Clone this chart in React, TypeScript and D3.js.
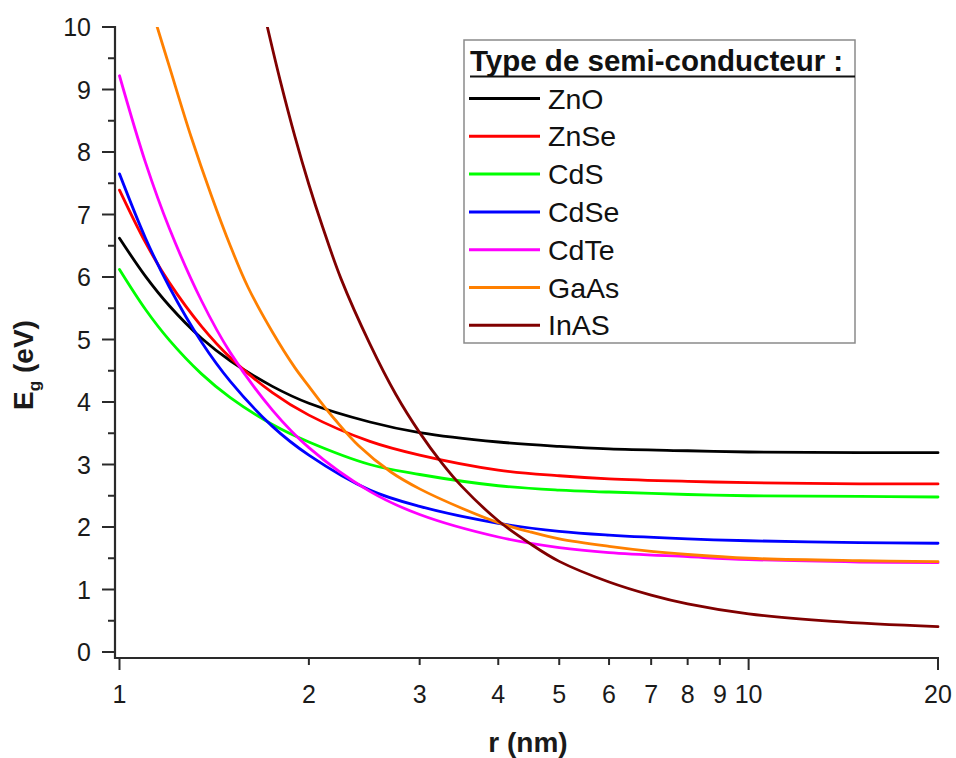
import React from "react";
import * as d3 from "d3";

const R_MAIN = [1, 1.1, 1.2, 1.35, 1.5, 1.75, 2, 2.5, 3, 4, 5, 6, 8, 10, 15, 20];
const ZNO = [6.62, 6.01, 5.54, 5.02, 4.66, 4.25, 3.98, 3.68, 3.51, 3.36, 3.29, 3.25, 3.22, 3.2, 3.19, 3.19];
const ZNSE = [7.39, 6.55, 5.91, 5.21, 4.71, 4.15, 3.79, 3.37, 3.15, 2.91, 2.82, 2.77, 2.73, 2.71, 2.69, 2.69];
const CDS = [6.12, 5.48, 4.99, 4.45, 4.07, 3.64, 3.36, 3.0, 2.84, 2.66, 2.59, 2.56, 2.52, 2.5, 2.49, 2.48];
const CDSE = [7.65, 6.62, 5.84, 4.96, 4.33, 3.61, 3.15, 2.59, 2.33, 2.06, 1.93, 1.87, 1.81, 1.78, 1.75, 1.74];
const CDTE = [9.22, 7.83, 6.78, 5.62, 4.79, 3.87, 3.27, 2.57, 2.2, 1.84, 1.67, 1.59, 1.525, 1.48, 1.44, 1.43];

const R_GAAS = [1.148, 1.2, 1.3, 1.4, 1.5, 1.6, 1.75, 1.9, 2.0, 2.1, 2.2, 2.4, 2.7, 3.0, 3.5, 4.0, 4.5, 5, 6, 7, 8, 10, 15, 20];
const GAAS = [10.0, 9.37, 8.24, 7.3, 6.5, 5.84, 5.12, 4.55, 4.25, 3.97, 3.72, 3.3, 2.88, 2.61, 2.3, 2.07, 1.92, 1.81, 1.69, 1.61, 1.56, 1.5, 1.46, 1.445];

const R_INAS = [1.718, 1.8, 1.9, 2.0, 2.1, 2.25, 2.5, 2.75, 3.0, 3.25, 3.5, 4.0, 4.5, 5, 6, 7, 8, 10, 13.6, 20];
const INAS = [10.0, 9.15, 8.25, 7.48, 6.82, 5.97, 4.93, 4.12, 3.51, 3.03, 2.65, 2.1, 1.73, 1.45, 1.12, 0.91, 0.77, 0.61, 0.49, 0.405];

const SERIES_NAMES = ["ZnO", "ZnSe", "CdS", "CdSe", "CdTe", "GaAs", "InAS"];
const SERIES_COLORS = ["#000000", "#ff0000", "#00ff00", "#0000ff", "#ff00ff", "#ff8000", "#800000"];

const X_TICKS = [1, 2, 3, 4, 5, 6, 7, 8, 9, 10, 20];
const X_MAJOR = [1, 10, 20];
const Y_TICKS = [0, 1, 2, 3, 4, 5, 6, 7, 8, 9, 10];
const Y_MINOR = [0.5, 1.5, 2.5, 3.5, 4.5, 5.5, 6.5, 7.5, 8.5, 9.5];

const LEGEND_TITLE = "Type de semi-conducteur :";
const X_TITLE = "r (nm)";

const FONT = "'Liberation Sans', Arial, Helvetica, sans-serif";

export default function App() {
  const W = 956;
  const H = 758;
  const axisX = 115;
  const axisY = 658;
  const x = d3.scaleLog().domain([1, 20]).range([119.5, 938]);
  const y = d3.scaleLinear().domain([0, 10]).range([652, 27]);

  const toPts = (rs: number[], vs: number[]) => rs.map((r, i) => [r, vs[i]] as [number, number]);
  const data = [
    toPts(R_MAIN, ZNO),
    toPts(R_MAIN, ZNSE),
    toPts(R_MAIN, CDS),
    toPts(R_MAIN, CDSE),
    toPts(R_MAIN, CDTE),
    toPts(R_GAAS, GAAS),
    toPts(R_INAS, INAS),
  ];
  const line = d3
    .line<[number, number]>()
    .x((d) => x(d[0]))
    .y((d) => y(d[1]))
    .curve(d3.curveCatmullRom.alpha(0.5));

  const axisColor = "#2a2a2a";
  const legX = 464;
  const legY = 40;
  const legW = 391;
  const legH = 303;
  const entryY0 = 98.5;
  const entryDy = 37.8;

  return (
    <svg
      width={W}
      height={H}
      style={{ position: "absolute", left: 0, top: 0, background: "#fff" }}
      fontFamily={FONT}
    >
      <rect x={0} y={0} width={W} height={H} fill="#fff" />
      <defs>
        <clipPath id="plotClip">
          <rect x={axisX} y={y(10)} width={940 - axisX} height={axisY - y(10)} />
        </clipPath>
      </defs>

      {/* curves */}
      <g clipPath="url(#plotClip)">
        {data.map((pts, i) => (
          <path
            key={SERIES_NAMES[i]}
            d={line(pts) || ""}
            fill="none"
            stroke={SERIES_COLORS[i]}
            strokeWidth={2.8}
            strokeLinejoin="round"
            strokeLinecap="round"
          />
        ))}
      </g>

      {/* Y axis */}
      <line x1={axisX} x2={axisX} y1={y(10) - 1} y2={axisY + 1} stroke={axisColor} strokeWidth={2.2} />
      {Y_TICKS.map((t) => (
        <g key={"yt" + t}>
          <line x1={axisX - 13} x2={axisX} y1={y(t)} y2={y(t)} stroke={axisColor} strokeWidth={2} />
          <text x={91} y={y(t)} dy="0.36em" textAnchor="end" fontSize={25} fill="#1a1a1a">
            {t}
          </text>
        </g>
      ))}
      {Y_MINOR.map((t) => (
        <line key={"ym" + t} x1={axisX - 7} x2={axisX} y1={y(t)} y2={y(t)} stroke={axisColor} strokeWidth={2} />
      ))}

      {/* X axis */}
      <line x1={axisX - 1} x2={939} y1={axisY} y2={axisY} stroke={axisColor} strokeWidth={2.2} />
      {X_TICKS.map((t) => (
        <g key={"xt" + t}>
          <line
            x1={x(t)}
            x2={x(t)}
            y1={axisY}
            y2={axisY + (X_MAJOR.includes(t) ? 12 : 7)}
            stroke={axisColor}
            strokeWidth={2}
          />
          <text x={x(t)} y={703} textAnchor="middle" fontSize={25} fill="#1a1a1a">
            {t}
          </text>
        </g>
      ))}

      {/* Axis titles */}
      <text x={528} y={752} textAnchor="middle" fontSize={28} fontWeight="bold" fill="#1a1a1a">
        {X_TITLE}
      </text>
      <text
        transform={`translate(33, 365) rotate(-90)`}
        textAnchor="middle"
        fontSize={28}
        fontWeight="bold"
        fill="#1a1a1a"
      >
        E
        <tspan fontSize={17} dy={7}>g</tspan>
        <tspan dy={-7}> (eV)</tspan>
      </text>

      {/* Legend */}
      <rect x={legX} y={legY} width={legW} height={legH} fill="#fff" stroke="#8a8a8a" strokeWidth={1.5} />
      <text x={470} y={70.5} fontSize={29.5} fontWeight="bold" fill="#111">
        {LEGEND_TITLE}
      </text>
      <line x1={470} x2={855} y1={76.5} y2={76.5} stroke="#111" strokeWidth={2} />
      {SERIES_NAMES.map((name, i) => {
        const cy = entryY0 + i * entryDy;
        return (
          <g key={"leg" + name}>
            <line x1={469} x2={540} y1={cy} y2={cy} stroke={SERIES_COLORS[i]} strokeWidth={3} />
            <text x={548} y={cy + 10} fontSize={28.5} fill="#111">
              {name}
            </text>
          </g>
        );
      })}
    </svg>
  );
}
